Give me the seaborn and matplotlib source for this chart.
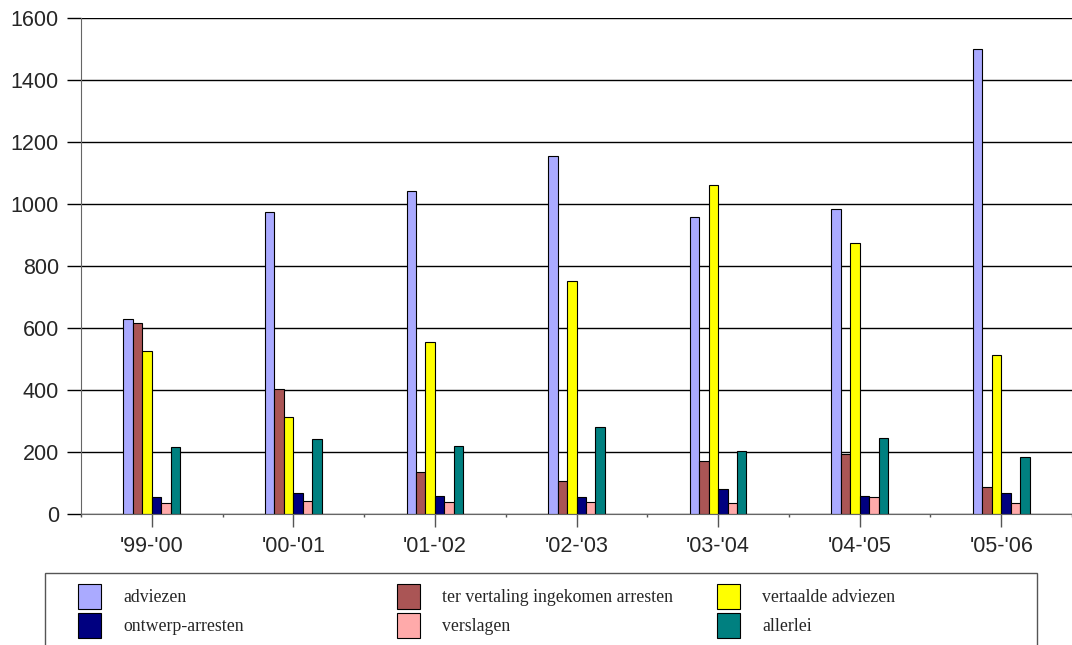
import pandas as pd
import numpy as np
import seaborn as sns
import matplotlib.pyplot as plt
from matplotlib.patches import Rectangle, Patch

# data
years = ["'99-'00", "'00-'01", "'01-'02", "'02-'03", "'03-'04", "'04-'05", "'05-'06"]
series = ["adviezen", "ter vertaling ingekomen arresten", "vertaalde adviezen",
          "ontwerp-arresten", "verslagen", "allerlei"]
adviezen = [630, 974, 1041, 1156, 959, 983, 1499]
ingekomen = [615, 404, 134, 106, 170, 193, 86]
vertaalde = [525, 313, 556, 751, 1060, 874, 513]
ontwerp = [54, 68, 59, 55, 82, 57, 68]
verslagen = [35, 42, 39, 38, 34, 55, 34]
allerlei = [217, 243, 220, 280, 202, 244, 183]
colors = ["#AAAAFF", "#AA5555", "#FFFF00", "#000080", "#FFAAAA", "#008080"]

values = [adviezen, ingekomen, vertaalde, ontwerp, verslagen, allerlei]
rows = []
for name, vals in zip(series, values):
    for y, v in zip(years, vals):
        rows.append({"jaar": y, "reeks": name, "aantal": v})
df = pd.DataFrame(rows)

sns.set_style("white")
plt.rcParams["font.family"] = ["Liberation Sans", "DejaVu Sans"]

fig = plt.figure(figsize=(10.72, 6.45), dpi=100)
ax = fig.add_axes([81 / 1072, 1 - 514 / 645, 1 - 81 / 1072, (514 - 18) / 645])

sns.barplot(data=df, x="jaar", y="aantal", hue="reeks", hue_order=series,
            order=years, palette=colors, width=0.4, edgecolor="black",
            linewidth=0.8, saturation=1, legend=False, ax=ax)

ax.set_ylim(0, 1600)
ax.set_yticks(range(0, 1601, 200))
ax.yaxis.grid(True, color="black", linewidth=1)
ax.set_axisbelow(True)
ax.set_xlim(-0.5, 6.5)
ax.set_xlabel("")
ax.set_ylabel("")
for s in ["top", "right"]:
    ax.spines[s].set_visible(False)
ax.spines["left"].set_color("#666666")
ax.spines["bottom"].set_color("#666666")
ax.tick_params(axis="y", left=True, length=10, width=1, color="black",
               labelsize=15.5, pad=6)
ax.tick_params(axis="x", bottom=True, length=9, width=1, color="#555555",
               labelsize=15.5, pad=7)
ax.set_xticks(np.arange(-0.5, 7, 1), minor=True)
ax.tick_params(axis="x", which="minor", bottom=True, length=2, width=1, color="#555555")

# legend frame
fig.add_artist(Rectangle((45 / 1072, -0.02), (1037 - 45) / 1072, (645 - 573) / 645 + 0.02,
                         transform=fig.transFigure, fill=False, edgecolor="#555555",
                         linewidth=1))

handles = [Patch(facecolor=c, edgecolor="black", linewidth=0.8) for c in colors]
col_x = [78, 397, 717]
for i in range(3):
    idx = [i, i + 3]
    fig.legend([handles[j] for j in idx], [series[j] for j in idx],
               loc="upper left", bbox_to_anchor=(col_x[i] / 1072, 1 - 584 / 645),
               frameon=False, handlelength=1.3, handleheight=1.8, handletextpad=1.25,
               labelspacing=0.2, borderaxespad=0, borderpad=0,
               prop={"family": "Liberation Serif", "size": 12.8})

plt.savefig("out.png", dpi=100)
